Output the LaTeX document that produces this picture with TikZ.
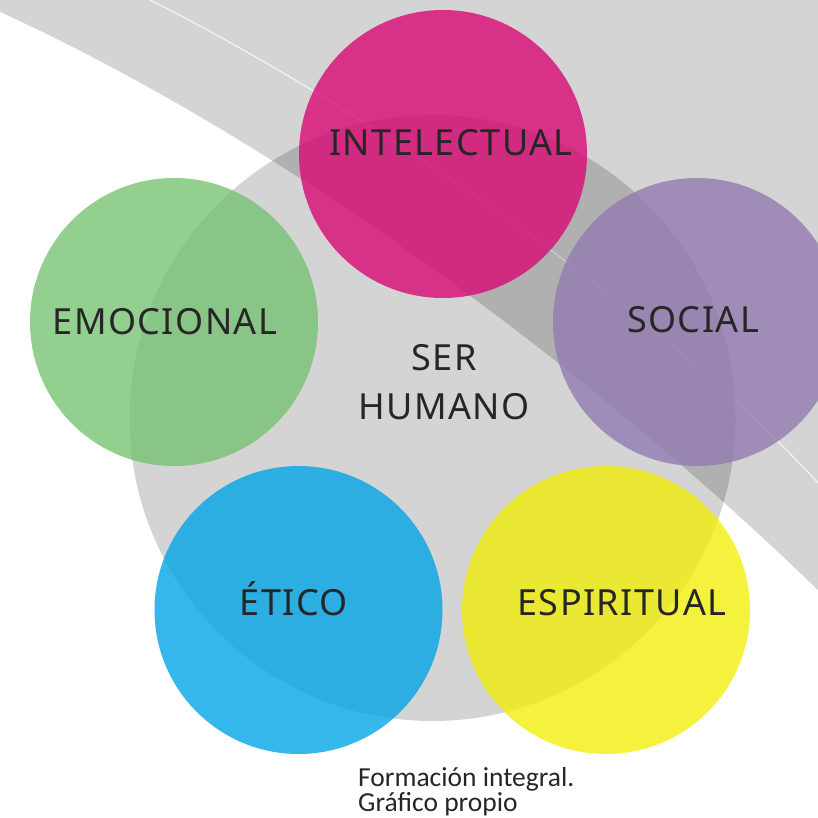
\documentclass[tikz,border=0pt]{standalone}
\usepackage{fontspec}
\newfontfamily\labelfont[LetterSpace=4]{Noto Sans}
\newfontfamily\notefont{Carlito}
\definecolor{swooshgray}{HTML}{D4D4D4}
\definecolor{pinkc}{RGB}{218,10,118}
\definecolor{purplec}{RGB}{146,124,178}
\definecolor{greenc}{RGB}{120,195,115}
\definecolor{bluec}{RGB}{4,165,231}
\definecolor{yellowc}{RGB}{242,239,12}
\definecolor{textc}{HTML}{262626}
\tikzset{
  petal/.style={circle, inner sep=0pt, minimum size=288pt, fill opacity=0.8, draw=none},
  core/.style={circle, inner sep=0pt, minimum size=606pt, fill=black, fill opacity=0.17, draw=none},
  lbl/.style={anchor=base, inner sep=0pt, text=textc, font=\labelfont\fontsize{36}{42}\selectfont},
  note/.style={anchor=base west, inner sep=0pt, text=textc, font=\notefont\fontsize{27.5}{25}\selectfont}
}
\begin{document}
\begin{tikzpicture}[x=1pt,y=-1pt]
\useasboundingbox (0,0) rectangle (818,817);
\clip (0,0) rectangle (818,817);
% background swoosh
\fill[swooshgray] (-2,-2) -- (-2,11) .. controls (255,128) and (560,340) .. (820,592) -- (820,-2) -- cycle;
\draw[white, line width=1pt, opacity=0.85] (148,-1) .. controls (350,100) and (650,300) .. (820,485);
% central circle
\node[core] (core) at (432.5,418) {};
% petals
\node[petal, fill=pinkc] (intel) at (443,154) {};
\node[petal, fill=purplec] (social) at (697,322) {};
\node[petal, fill=greenc] (emoc) at (174,322) {};
\node[petal, fill=bluec] (etico) at (298.5,610) {};
\node[petal, fill=yellowc] (espir) at (606,610) {};
% labels
\node[lbl] (tintel) at (451,155) {INTELECTUAL};
\node[lbl] (tsocial) at (693,332) {SOCIAL};
\node[lbl] (temoc) at (165,334) {EMOCIONAL};
\node[lbl] (tser) at (444,370) {SER};
\node[lbl] (thum) at (444,419) {HUMANO};
\node[lbl] (tetico) at (294,615) {ÉTICO};
\node[lbl] (tespir) at (622,615) {ESPIRITUAL};
% note
\node[note] (note1) at (358,786) {Formación integral.};
\node[note] (note2) at (358,811) {Gráfico propio};
\end{tikzpicture}
\end{document}
